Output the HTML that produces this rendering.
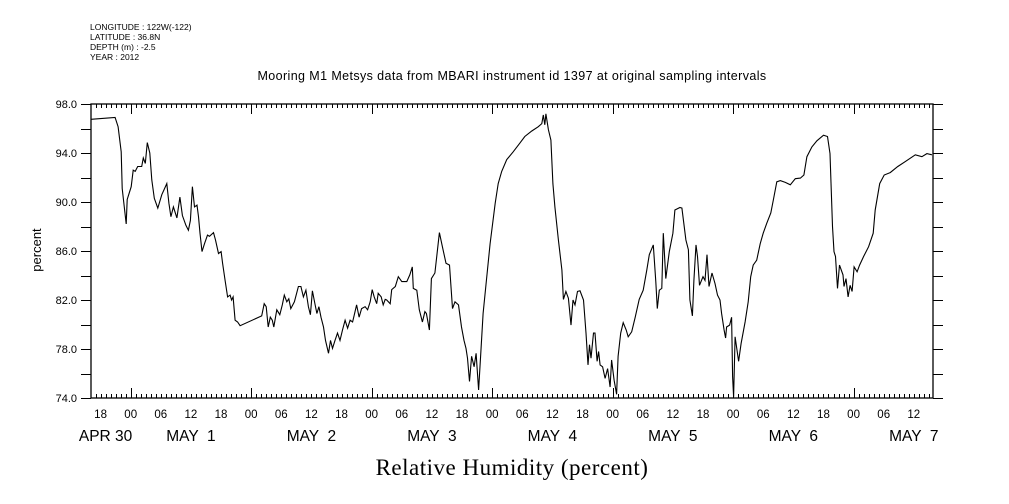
<!DOCTYPE html>
<html><head><meta charset="utf-8"><style>
body{margin:0;background:#fff}
svg{display:block;font-family:"Liberation Sans",sans-serif}
</style></head><body>
<svg id="chart" width="1009" height="504" viewBox="0 0 1009 504">
<g font-size="8.5" fill="#000">
<text x="90" y="30">LONGITUDE : 122W(-122)</text>
<text x="90" y="40">LATITUDE : 36.8N</text>
<text x="90" y="50">DEPTH (m) : -2.5</text>
<text x="90" y="60">YEAR : 2012</text>
</g>
<text x="512" y="80" font-size="12.5" text-anchor="middle" letter-spacing="0.4">Mooring M1 Metsys data from MBARI instrument id 1397 at original sampling intervals</text>
<text transform="translate(41,250) rotate(-90)" font-size="13" text-anchor="middle">percent</text>
<text x="512" y="475" font-family="'Liberation Serif',serif" font-size="23" text-anchor="middle" letter-spacing="0.5">Relative Humidity (percent)</text>
<g id="axes"></g>
<g id="series"></g>
</svg>
<script>
const hours=[16.1,20.9,21.5,22.1,22.3,23.1,23.3,24.1,24.5,24.9,25.4,26.2,26.5,26.9,27.3,27.8,28.2,28.7,29.4,30.2,31.2,31.6,32.0,32.5,33.2,33.8,34.3,35.0,35.5,35.9,36.3,36.7,37.2,37.5,37.8,38.2,38.7,39.3,39.7,40.5,40.9,41.5,42.0,42.3,42.8,43.3,43.8,44.1,44.4,44.8,45.3,45.8,50.1,50.6,51.0,51.4,51.8,52.2,52.5,53.1,53.7,54.2,54.6,55.1,55.5,55.9,56.6,57.4,57.9,58.4,58.9,59.4,59.8,60.2,60.7,61.1,61.5,61.9,62.4,62.8,63.4,63.8,64.2,64.7,65.2,65.7,66.2,66.7,67.2,67.7,68.2,68.6,69.0,69.5,70.0,70.7,71.2,71.7,72.1,72.5,73.0,73.3,73.9,74.3,74.7,75.0,75.7,76.0,76.7,77.3,78.0,79.0,79.6,80.1,80.3,81.0,81.5,82.1,82.6,82.9,83.5,83.9,84.6,85.5,86.1,86.8,87.5,88.1,88.6,89.3,89.9,90.4,90.8,91.1,91.5,91.9,92.4,92.8,93.3,93.7,94.2,94.8,95.6,96.6,97.2,97.9,98.9,100.2,101.5,102.5,103.9,105.2,105.9,106.2,106.5,106.7,107.2,107.7,108.1,108.5,109.2,109.9,110.2,110.7,111.2,111.7,112.1,112.5,113.0,113.5,114.2,114.7,115.1,115.4,115.7,116.2,116.5,116.9,117.2,117.5,118.0,118.5,119.0,119.5,119.8,120.3,120.8,121.1,121.6,122.1,122.7,123.1,123.8,124.5,125.3,126.1,126.8,127.3,128.1,128.6,128.9,129.3,129.8,130.1,130.6,131.3,132.0,132.4,133.4,133.8,134.6,135.1,135.4,135.9,136.2,136.6,136.9,137.3,138.0,138.4,138.8,139.2,139.8,140.4,140.9,141.4,141.7,142.2,142.5,142.7,143.3,143.7,143.9,144.1,144.4,145.1,145.6,146.4,147.0,147.5,148.0,148.7,149.4,150.0,150.7,151.5,152.0,152.7,153.4,154.4,155.4,156.4,157.4,158.1,158.7,159.7,160.7,162.0,162.8,163.3,163.8,164.1,164.4,164.8,165.2,165.9,166.1,166.5,166.9,167.3,167.7,168.1,168.7,169.2,170.0,171.0,171.9,172.3,173.2,174.1,175.3,176.8,178.3,180.3,181.6,182.6,183.6];
const humidity=[96.75,96.9,96.15,94.1,91.1,88.2,90.2,91.25,92.6,92.5,92.9,92.9,93.6,93.15,94.85,94.0,91.8,90.3,89.5,90.6,91.5,89.9,88.8,89.6,88.7,90.4,88.9,88.1,87.7,88.5,91.25,89.6,89.75,88.8,87.45,85.95,86.6,87.3,87.2,87.5,86.9,85.8,85.95,85.0,83.6,82.25,82.4,82.0,82.25,80.35,80.2,79.9,80.7,81.7,81.45,79.8,80.6,80.35,79.8,81.2,80.8,81.6,82.4,81.85,82.1,81.3,81.85,83.1,83.1,82.25,82.8,81.45,80.8,82.75,81.7,80.9,81.45,80.6,79.8,78.7,77.65,78.7,78.05,78.7,79.3,78.7,79.55,80.35,79.7,80.35,80.2,80.9,81.6,80.6,81.3,81.45,81.2,81.85,82.85,82.25,81.7,82.55,82.25,81.6,82.05,82.0,81.7,82.85,83.1,83.9,83.5,83.5,84.05,84.7,82.95,82.8,81.2,80.2,81.05,80.9,79.55,83.75,84.2,87.5,86.35,85.0,84.85,81.3,81.85,81.6,79.8,78.7,78.05,77.25,75.35,77.4,76.55,77.65,74.65,77.4,80.9,83.35,86.6,89.9,91.5,92.5,93.45,94.1,94.8,95.35,95.8,96.15,96.4,97.1,96.3,97.2,95.9,95.05,91.5,89.6,86.9,84.45,82.05,82.7,82.15,79.95,82.0,81.6,82.7,82.75,82.0,79.3,76.7,78.35,77.25,79.3,79.3,77.0,77.8,76.7,76.55,75.6,76.4,74.9,77.1,75.45,74.3,77.4,79.3,80.15,79.55,79.0,79.4,80.6,82.05,82.8,84.45,85.7,86.5,83.5,81.3,82.8,82.95,87.45,83.75,85.95,87.45,89.35,89.55,89.5,86.9,86.1,82.0,80.7,83.6,86.5,85.55,83.2,83.9,83.6,85.7,83.1,84.2,83.35,82.4,82.0,80.9,79.55,78.9,79.8,79.95,80.6,75.75,74.1,79.0,77.0,78.45,80.2,81.85,83.9,84.85,85.25,86.6,87.45,88.25,89.1,90.15,91.65,91.75,91.6,91.4,91.9,91.95,92.2,93.7,94.5,95.0,95.45,95.35,93.95,88.0,85.95,85.55,82.95,84.85,84.05,83.1,83.75,82.25,83.2,82.7,84.7,84.3,84.85,85.55,86.35,87.45,89.35,91.5,92.2,92.4,92.9,93.3,93.85,93.7,93.95,93.85];
const yTickValues=[74,78,82,86,90,94,98];
const hourTickLabels=["18","00","06","12"];
const dateLabels=["APR 30","MAY  1","MAY  2","MAY  3","MAY  4","MAY  5","MAY  6","MAY  7"];
const dateLabelHours=[19,36,60,84,108,132,156,180];

const L=91,R=933,T=104,B=398;
const xS=h=>130.7+(h-24)*5.02;
const yS=v=>T+(98-v)*12.25;
const NS="http://www.w3.org/2000/svg";
const ax=document.getElementById('axes'), sr=document.getElementById('series');
function mk(tag,attrs,parent){const e=document.createElementNS(NS,tag);for(const k in attrs)e.setAttribute(k,attrs[k]);parent.appendChild(e);return e;}
const frame=mk('rect',{x:L,y:T,width:R-L,height:B-T,fill:'none',stroke:'#000','stroke-width':1.3},ax);


let tp='';
for(let h=17;h<=183;h++){const x=Math.round(xS(h))+0.5;const len=(h%24===0)?10:4;
 tp+=`M${x},${B}v-${len}M${x},${T}v${len}`;}
for(let v=74;v<=98;v+=2){const y=Math.round(yS(v))+0.5;tp+=`M${L-10},${y}H${L}M${R},${y}h10`;}
const ticks=mk('path',{d:tp,stroke:'#000','stroke-width':1,fill:'none'},ax);


yTickValues.forEach(v=>{const t=mk('text',{x:L-14,y:yS(v)+4,'font-size':11,'text-anchor':'end'},ax);t.textContent=v.toFixed(1);
 
 });
for(let h=18;h<=183;h+=6){const t=mk('text',{x:xS(h),y:418,'font-size':11.5,'text-anchor':'middle'},ax);t.textContent=hourTickLabels[((h-18)/6)%4];
 
 }
dateLabels.forEach((d,i)=>{const t=mk('text',{x:xS(dateLabelHours[i]),y:441,'font-size':15.5,'text-anchor':'middle','xml:space':'preserve'},ax);t.textContent=d;t.style.whiteSpace='pre';
 
 });
const pts=hours.map((h,i)=>xS(h).toFixed(1)+','+yS(humidity[i]).toFixed(1)).join(' ');
const line=mk('polyline',{points:pts,fill:'none',stroke:'#000','stroke-width':1.1},sr);


</script>
</body></html>
